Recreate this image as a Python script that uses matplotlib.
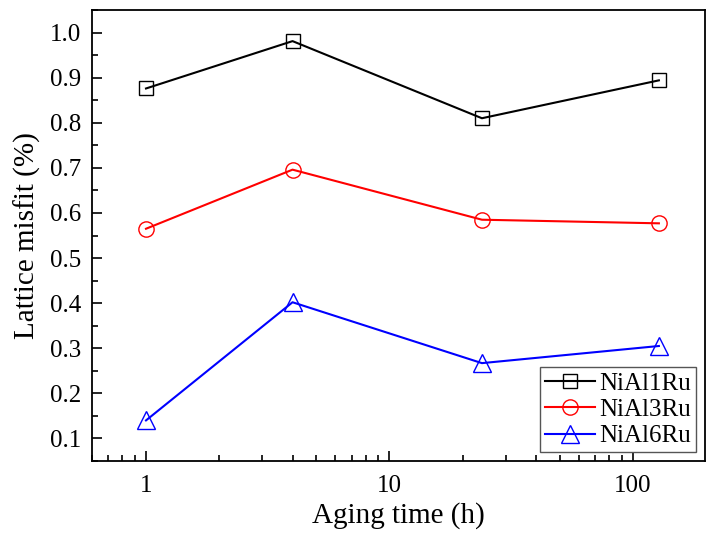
import matplotlib
matplotlib.use("Agg")
import matplotlib.pyplot as plt
from matplotlib.ticker import MultipleLocator, FixedLocator, FixedFormatter

plt.rcParams['font.family'] = ['Liberation Serif', 'DejaVu Serif']

aging_time = [1, 4, 24, 128]
series_names = ["NiAl1Ru", "NiAl3Ru", "NiAl6Ru"]
nial1ru = [0.876, 0.981, 0.810, 0.894]
nial3ru = [0.565, 0.696, 0.585, 0.577]
nial6ru = [0.140, 0.402, 0.267, 0.305]
x_tick_values = [1, 10, 100]
x_tick_labels = ["1", "10", "100"]

fig = plt.figure(figsize=(7.15, 5.37), dpi=100)
ax = fig.add_axes([92/715, 1-461/537, (705-92)/715, (461-10)/537])

styles = [("black", "s", 10), ("red", "o", 11), ("blue", "^", 13)]
for name, vals, (c, m, ms) in zip(series_names, [nial1ru, nial3ru, nial6ru], styles):
    ax.plot(aging_time, vals, color=c, marker=m, markersize=ms,
            markerfacecolor='none', markeredgecolor=c, markeredgewidth=1.0,
            linewidth=1.5, label=name)

ax.set_xscale('log')
ax.set_xlim(0.6, 198)
ax.set_ylim(0.05, 1.05)
ax.xaxis.set_major_locator(FixedLocator(x_tick_values))
ax.xaxis.set_major_formatter(FixedFormatter(x_tick_labels))
ax.yaxis.set_major_locator(MultipleLocator(0.1))
ax.yaxis.set_minor_locator(MultipleLocator(0.05))
ax.yaxis.set_major_formatter(matplotlib.ticker.FormatStrFormatter('%.1f'))

ax.tick_params(which='both', direction='in', top=False, right=False, width=1.2)
ax.tick_params(which='major', length=7, labelsize=18)
ax.tick_params(axis='x', which='major', pad=10)
ax.tick_params(axis='y', which='major', pad=8)
ax.tick_params(which='minor', length=4)
for s in ax.spines.values():
    s.set_linewidth(1.3)

ax.set_xlabel("Aging time (h)", fontsize=21, labelpad=4)
ax.set_ylabel("Lattice misfit (%)", fontsize=21, labelpad=6)

leg = ax.legend(loc='lower right', fontsize=18, frameon=True, fancybox=False,
                edgecolor='#555555', framealpha=1, borderpad=0.2,
                handlelength=2.0, handletextpad=0.2, labelspacing=0.15,
                borderaxespad=0.35)
leg.get_frame().set_linewidth(1.0)

fig.savefig("out.png", dpi=100)
